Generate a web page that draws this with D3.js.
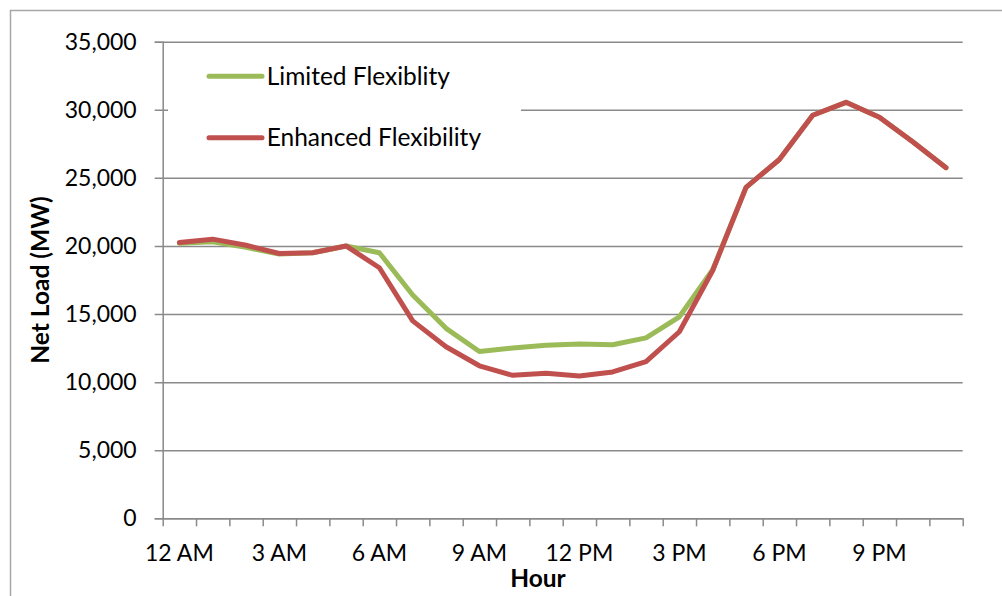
<!DOCTYPE html>
<html>
<head>
<meta charset="utf-8">
<script src="https://cdn.jsdelivr.net/npm/d3@7"></script>
<style>
  html, body { margin: 0; padding: 0; background: #fff; }
  svg { display: block; font-family: Lato, "Open Sans", sans-serif; }
</style>
</head>
<body>
<svg id="chart" width="1002" height="596"></svg>
<script>
// Hourly net load for one day, two flexibility scenarios (MW)
const hours = ["12 AM","1 AM","2 AM","3 AM","4 AM","5 AM","6 AM","7 AM","8 AM","9 AM","10 AM","11 AM",
               "12 PM","1 PM","2 PM","3 PM","4 PM","5 PM","6 PM","7 PM","8 PM","9 PM","10 PM","11 PM"];
const labeledHours = ["12 AM","3 AM","6 AM","9 AM","12 PM","3 PM","6 PM","9 PM"];
const limitedFlex = [20200, 20300, 19900, 19400, 19500, 20000, 19500, 16400, 13950, 12250, 12500, 12700,
                     12800, 12750, 13250, 14800, 18250, 24300, 26350, 29600, 30550, 29450, 27650, 25750];
const enhancedFlex = [20250, 20500, 20050, 19450, 19500, 20000, 18400, 14500, 12600, 11200, 10500, 10650,
                      10450, 10750, 11500, 13700, 18200, 24300, 26350, 29600, 30550, 29450, 27650, 25750];
const yTicks = [0, 5000, 10000, 15000, 20000, 25000, 30000, 35000];
const seriesNames = ["Limited Flexiblity", "Enhanced Flexibility"];
const seriesColors = ["#9BBB59", "#C0504D"];

const svg = d3.select("#chart");
const margin = { left: 162.7, top: 41.7 };
const plotW = 800, plotH = 476.6;
const gridColor = "#8a8a8a";
const tickFont = 23;
const legendFont = 24.5;
const titleFont = 24.5;

// outer chart frame
svg.append("rect")
  .attr("x", 10.5).attr("y", 10.5)
  .attr("width", 1010).attr("height", 610)
  .attr("fill", "#fff").attr("stroke", "#a6a6a6").attr("stroke-width", 1.5);

const g = svg.append("g").attr("transform", `translate(${margin.left},${margin.top})`);

const x = d3.scaleBand().domain(hours).range([0, plotW]).padding(0);
const xIdx = d3.scaleLinear().domain([0, hours.length]).range([0, plotW]);
const y = d3.scaleLinear().domain([0, 35000]).range([plotH, 0]);

// y axis: ticks extended into full-width gridlines
const yAxis = g.append("g").call(
  d3.axisLeft(y).tickValues(yTicks).tickSize(8).tickPadding(18)
    .tickFormat(d3.format(","))
);
yAxis.select(".domain").attr("stroke", gridColor).attr("stroke-width", 1.5);
yAxis.selectAll(".tick line").attr("x1", plotW).attr("stroke", gridColor).attr("stroke-width", 1.5);
yAxis.selectAll(".tick text")
  .attr("font-size", tickFont).attr("fill", "#000").attr("font-family", "Lato");

// x axis: tick marks on category boundaries
const xAxis = g.append("g").attr("transform", `translate(0,${plotH})`).call(
  d3.axisBottom(xIdx).tickValues(d3.range(0, hours.length + 1)).tickSize(8).tickSizeOuter(0).tickFormat("")
);
xAxis.select(".domain").attr("stroke", gridColor).attr("stroke-width", 1.5);
xAxis.selectAll(".tick line").attr("stroke", gridColor).attr("stroke-width", 1.5);

// x labels centred in their hour bands
const xLab = g.append("g").attr("transform", `translate(0,${plotH})`).call(
  d3.axisBottom(x).tickValues(labeledHours).tickSize(0)
);
xLab.select(".domain").remove();
xLab.selectAll(".tick text")
  .attr("y", 42.7).attr("dy", 0)
  .attr("font-size", tickFont).attr("fill", "#000").attr("font-family", "Lato");

// series lines
const line = d3.line()
  .x((d, i) => x(hours[i]) + x.bandwidth() / 2)
  .y(d => y(d));

[limitedFlex, enhancedFlex].forEach((vals, k) => {
  g.append("path")
    .datum(vals)
    .attr("d", line)
    .attr("fill", "none")
    .attr("stroke", seriesColors[k])
    .attr("stroke-width", 5)
    .attr("stroke-linejoin", "round")
    .attr("stroke-linecap", "round");
});

// legend with white background
const legend = svg.append("g");
legend.append("rect")
  .attr("x", 168).attr("y", 50)
  .attr("width", 353).attr("height", 118)
  .attr("fill", "#fff");
const legendY = [76.3, 137.7];
seriesNames.forEach((name, k) => {
  legend.append("line")
    .attr("x1", 209).attr("x2", 262)
    .attr("y1", legendY[k]).attr("y2", legendY[k])
    .attr("stroke", seriesColors[k]).attr("stroke-width", 5)
    .attr("stroke-linecap", "round");
  legend.append("text")
    .attr("x", 266.7).attr("y", legendY[k] + 8.6)
    .attr("font-size", legendFont).attr("fill", "#000")
    .text(name);
});

// axis titles
svg.append("text")
  .attr("transform", "translate(48.5,280) rotate(-90)")
  .attr("text-anchor", "middle")
  .attr("font-size", titleFont).attr("font-weight", "bold").attr("fill", "#000")
  .text("Net Load (MW)");
svg.append("text")
  .attr("x", 538).attr("y", 587)
  .attr("text-anchor", "middle")
  .attr("font-size", titleFont).attr("font-weight", "bold").attr("fill", "#000")
  .text("Hour");
</script>
</body>
</html>
